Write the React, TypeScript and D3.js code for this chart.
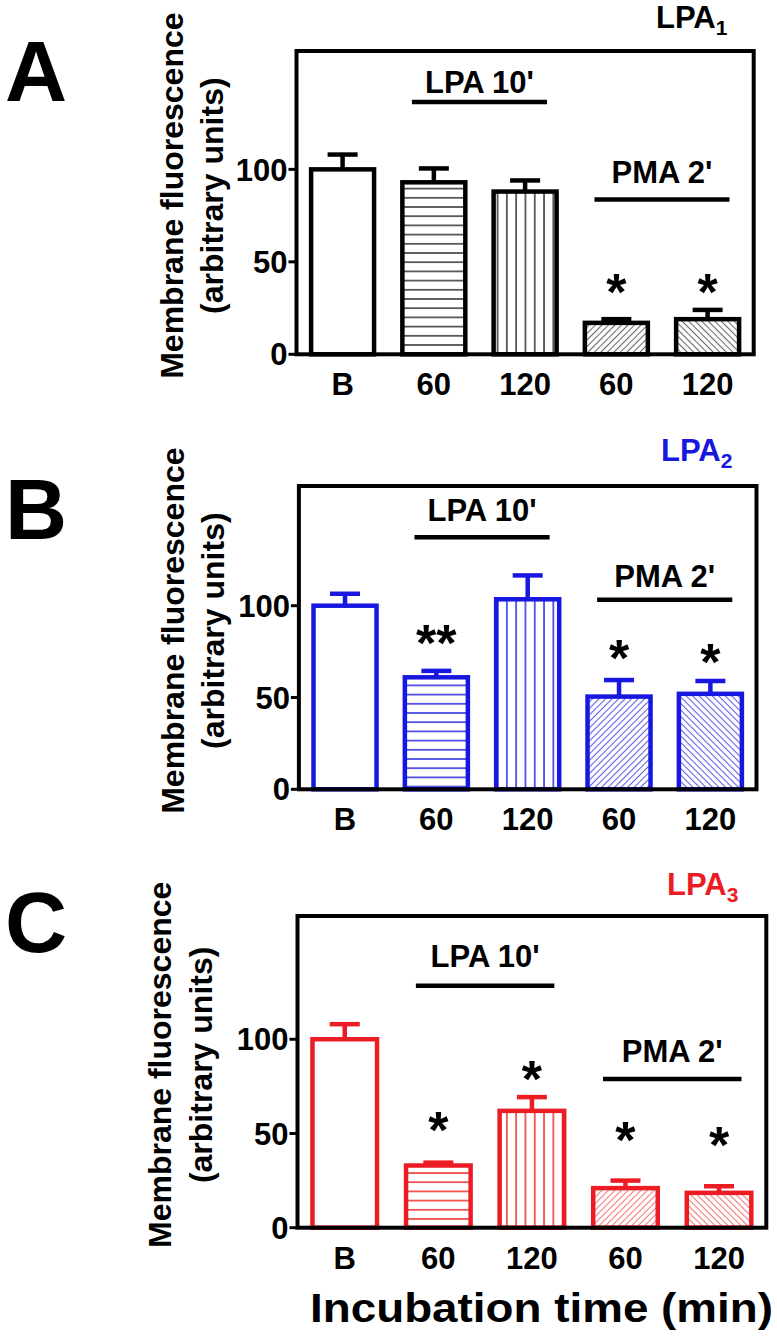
import React, { useEffect, useRef } from "react";
import * as d3 from "d3";

// categories along the x axis (shared by the three panels)
const categories = ["B", "60", "120", "60", "120"];
const fills = ["none", "horiz", "vert", "up", "down"];
const groupNames = ["LPA 10'", "PMA 2'"];
const groupMembers = [
    [1, 2],
    [3, 4],
];
const yTicks = [0, 50, 100];

// panel A: LPA1
const meanA = [100, 93, 88, 17, 19];
const semA = [8, 7.5, 6, 2, 5];
const starsA = ["", "", "", "*", "*"];
const starLevelA = [0, 0, 0, 40, 40];

// panel B: LPA2
const meanB = [100, 61, 103.5, 50.5, 52];
const semB = [6.5, 3.5, 13, 9, 7];
const starsB = ["", "**", "", "*", "*"];
const starLevelB = [0, 86, 0, 78, 76];

// panel C: LPA3
const meanC = [100, 33, 62, 21, 18.5];
const semC = [8, 1.5, 7.3, 4, 3.5];
const starsC = ["", "*", "*", "*", "*"];
const starLevelC = [0, 58, 85.5, 53, 50];

type Panel = {
    letter: string;
    sub: string;
    color: string;
    hatch: string;
    diag: string;
    mean: number[];
    sem: number[];
    stars: string[];
    starLevel: number[];
    groupLine: number[];
    groupText: number[];
    frame: [number, number, number, number];
    yTop: number;
    letterY: number;
    titleX: number;
    titleY: number;
    yLabX: [number, number];
};

const panels: Panel[] = [
    {
        letter: "A", sub: "1", color: "#000", hatch: "#333", diag: "#6a6a6a",
        mean: meanA, sem: semA, stars: starsA, starLevel: starLevelA,
        groupLine: [136.4, 83.7], groupText: [141.4, 92.8],
        frame: [296.5, 753.7, 51, 354.3], yTop: 164,
        letterY: 101, titleX: 656, titleY: 28, yLabX: [183, 223],
    },
    {
        letter: "B", sub: "2", color: "#1717e0", hatch: "#2a2ae2", diag: "#6060e6",
        mean: meanB, sem: semB, stars: starsB, starLevel: starLevelB,
        groupLine: [137.3, 103.2], groupText: [146, 110.4],
        frame: [298.9, 756.5, 486, 789.3], yTop: 165.2,
        letterY: 539, titleX: 661, titleY: 461, yLabX: [184, 224],
    },
    {
        letter: "C", sub: "3", color: "#ec1c24", hatch: "#ee3030", diag: "#f07a7a",
        mean: meanC, sem: semC, stars: starsC, starLevel: starLevelC,
        groupLine: [128.4, 78.9], groupText: [138.2, 88.1],
        frame: [297.5, 766.3, 916, 1227.7], yTop: 165.4,
        letterY: 952, titleX: 667, titleY: 895, yLabX: [171, 211.5],
    },
];

const font = "'Liberation Sans', Arial, sans-serif";

const App: React.FC = () => {
    const svgRef = useRef<SVGSVGElement | null>(null);

    useEffect(() => {
        const svg = d3.select(svgRef.current);
        svg.selectAll("*").remove();
        const defs = svg.append("defs");

        const makePattern = (id: string, size: number, rot: number, color: string, w: number) => {
            const pat = defs
                .append("pattern")
                .attr("id", id)
                .attr("patternUnits", "userSpaceOnUse")
                .attr("width", size)
                .attr("height", size)
                .attr("patternTransform", `rotate(${rot})`);
            pat.append("rect").attr("width", size).attr("height", size).attr("fill", "#fff");
            pat.append("line")
                .attr("x1", size / 2)
                .attr("x2", size / 2)
                .attr("y1", -1)
                .attr("y2", size + 1)
                .attr("stroke", color)
                .attr("stroke-width", w);
        };

        panels.forEach((p) => {
            const [left, right, top, bottom] = p.frame;
            const id = p.letter;
            makePattern(`${id}-vert`, 9.3, 0, p.hatch, 1.5);
            makePattern(`${id}-horiz`, 9.2, 90, p.hatch, 1.5);
            makePattern(`${id}-up`, 4.6, 45, p.diag, 1.1);
            makePattern(`${id}-down`, 4.6, -45, p.diag, 1.1);

            const x = d3
                .scaleBand()
                .domain(categories.map((_, i) => String(i)))
                .range([left, right])
                .paddingInner(0.31)
                .paddingOuter(0.16);
            const y = d3.scaleLinear().domain([0, p.yTop]).range([bottom, top]);
            const cx = (i: number) => x(String(i))! + x.bandwidth() / 2;

            const g = svg.append("g");

            // error bars (upper only)
            const err = g.append("g").attr("stroke", p.color).attr("stroke-width", 4.5);
            p.mean.forEach((m, i) => {
                err.append("line")
                    .attr("x1", cx(i)).attr("x2", cx(i))
                    .attr("y1", y(m)).attr("y2", y(m + p.sem[i]));
                err.append("line")
                    .attr("x1", cx(i) - 15).attr("x2", cx(i) + 15)
                    .attr("y1", y(m + p.sem[i])).attr("y2", y(m + p.sem[i]));
            });

            // bars
            g.append("g")
                .selectAll("rect")
                .data(p.mean)
                .join("rect")
                .attr("x", (_, i) => x(String(i))!)
                .attr("y", (d) => y(d))
                .attr("width", x.bandwidth())
                .attr("height", (d) => bottom - y(d))
                .attr("fill", (_, i) => (fills[i] === "none" ? "#fff" : `url(#${id}-${fills[i]})`))
                .attr("stroke", p.color)
                .attr("stroke-width", 4.5);

            // frame
            g.append("rect")
                .attr("x", left)
                .attr("y", top)
                .attr("width", right - left)
                .attr("height", bottom - top)
                .attr("fill", "none")
                .attr("stroke", "#000")
                .attr("stroke-width", 4);

            // y ticks
            yTicks.forEach((t) => {
                g.append("line")
                    .attr("x1", left - 8).attr("x2", left)
                    .attr("y1", y(t)).attr("y2", y(t))
                    .attr("stroke", "#000").attr("stroke-width", 3);
                g.append("text")
                    .attr("x", left - 9)
                    .attr("y", y(t))
                    .attr("dy", "0.36em")
                    .attr("text-anchor", "end")
                    .style("font", `bold 31px ${font}`)
                    .text(t);
            });

            // x labels
            categories.forEach((c, i) => {
                g.append("text")
                    .attr("x", cx(i))
                    .attr("y", bottom + 41)
                    .attr("text-anchor", "middle")
                    .style("font", `bold 31px ${font}`)
                    .text(c);
            });

            // treatment groups
            const step = x.step();
            groupMembers.forEach((mem, k) => {
                const mid = (cx(mem[0]) + cx(mem[1])) / 2;
                g.append("line")
                    .attr("x1", mid - 0.74 * step).attr("x2", mid + 0.74 * step)
                    .attr("y1", y(p.groupLine[k])).attr("y2", y(p.groupLine[k]))
                    .attr("stroke", "#000").attr("stroke-width", 4.5);
                g.append("text")
                    .attr("x", mid)
                    .attr("y", y(p.groupText[k]))
                    .attr("text-anchor", "middle")
                    .style("font", `bold 31px ${font}`)
                    .text(groupNames[k]);
            });

            // significance marks
            p.stars.forEach((s, i) => {
                if (!s) return;
                g.append("text")
                    .attr("x", cx(i))
                    .attr("y", y(p.starLevel[i]) + 30)
                    .attr("text-anchor", "middle")
                    .style("font", `bold 52px ${font}`)
                    .text(s);
            });

            // y axis title
            const midY = (top + bottom) / 2 - 7;
            ["Membrane fluorescence", "(arbitrary units)"].forEach((line, k) => {
                g.append("text")
                    .attr("transform", `translate(${p.yLabX[k]},${midY}) rotate(-90)`)
                    .attr("text-anchor", "middle")
                    .style("font", `bold 32px ${font}`)
                    .text(line);
            });

            // panel letter
            g.append("text")
                .attr("x", 5)
                .attr("y", p.letterY)
                .style("font", `bold 86px ${font}`)
                .text(p.letter);

            // receptor title
            const title = g.append("text")
                .attr("x", p.titleX)
                .attr("y", p.titleY)
                .attr("fill", p.color)
                .style("font", `bold 31px ${font}`);
            title.append("tspan").text("LPA");
            title.append("tspan").attr("dy", 7).style("font-size", "21px").text(p.sub);
        });

        svg.append("text")
            .attr("x", 310)
            .attr("y", 1322)
            .attr("textLength", 463)
            .attr("lengthAdjust", "spacingAndGlyphs")
            .style("font", `bold 40px ${font}`)
            .text("Incubation time (min)");
    }, []);

    return (
        <svg
            ref={svgRef}
            width={777}
            height={1338}
            style={{ position: "absolute", left: 0, top: 0, background: "#fff" }}
        />
    );
};

export default App;
